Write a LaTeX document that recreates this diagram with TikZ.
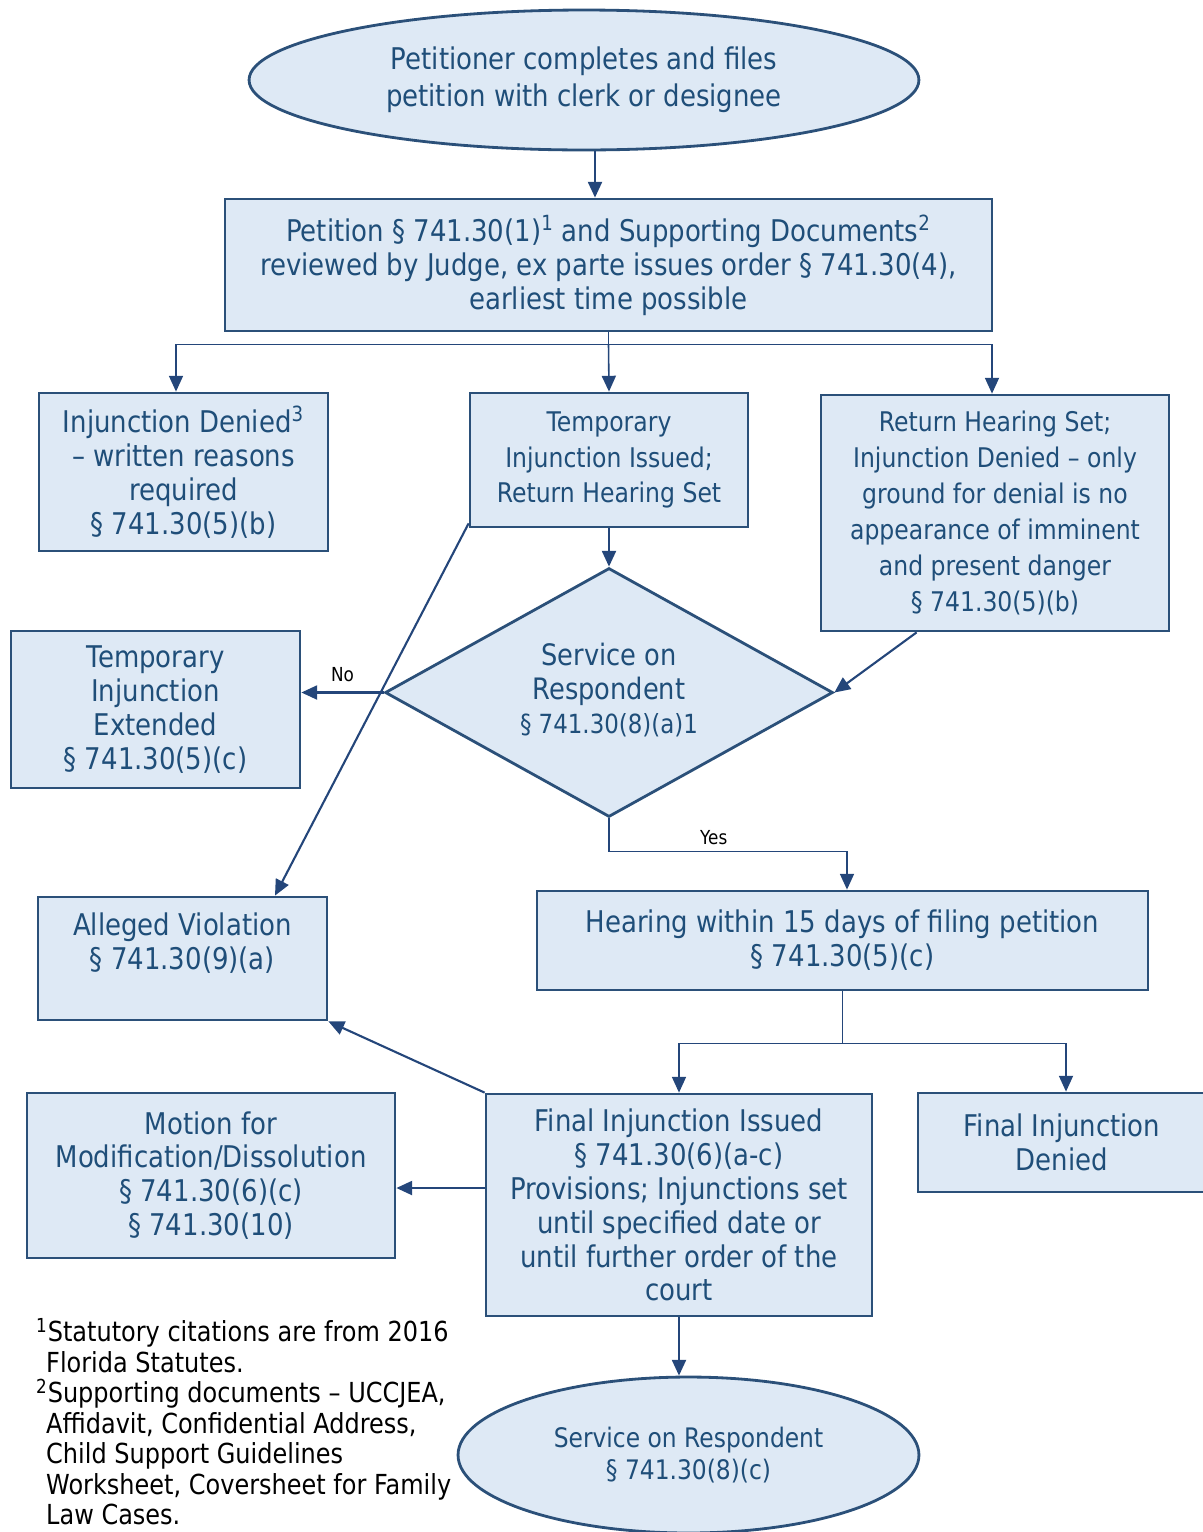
\documentclass[tikz,border=0pt]{standalone}
\usepackage{fontspec}
\setmainfont{DejaVu Sans}[FakeStretch=0.87]
\usetikzlibrary{arrows.meta,shapes.geometric,positioning}

\definecolor{boxfill}{HTML}{DEE9F5}
\definecolor{boxline}{HTML}{2B5079}
\definecolor{boxtext}{HTML}{1F4E79}
\definecolor{linkcol}{HTML}{24467A}

\begin{document}
\begin{tikzpicture}[x=0.02cm, y=-0.02cm, >={Triangle[length=9pt,width=8pt]},
    box/.style={draw=boxline, line width=1.6pt, fill=boxfill, text=boxtext, align=center, inner sep=0pt},
    oval/.style={box, ellipse},
    link/.style={draw=linkcol, line width=1.2pt},
    thinlink/.style={draw=linkcol, line width=0.9pt},
    bigtxt/.style={font=\fontsize{17}{19.3}\selectfont},
    toptxt/.style={font=\fontsize{17}{21}\selectfont},
    smalltxt/.style={font=\fontsize{15.4}{20.4}\selectfont},
    tag/.style={font=\fontsize{11}{13}\selectfont, text=black}]
    \useasboundingbox (0,0) rectangle (1203,1532);

    % Nodes
    \node [oval, toptxt, minimum width=13.4cm, minimum height=2.8cm] (petition) at (584,80)
        {Petitioner completes and files\\petition with clerk or designee};
    \node [box, bigtxt, minimum width=15.34cm, minimum height=2.64cm] (review) at (608.5,265)
        {Petition § 741.30(1)\textsuperscript{1} and Supporting Documents\textsuperscript{2}\\reviewed by Judge, ex parte issues order § 741.30(4),\\earliest time possible};
    \node [box, bigtxt, minimum width=5.78cm, minimum height=3.16cm] (denied) at (183.5,472)
        {Injunction Denied\textsuperscript{3}\\– written reasons\\required\\§ 741.30(5)(b)};
    \node [box, smalltxt, minimum width=5.56cm, minimum height=2.68cm] (temp) at (609,460)
        {Temporary\\Injunction Issued;\\Return Hearing Set};
    \node [box, smalltxt, minimum width=6.96cm, minimum height=4.72cm] (ret) at (995,513)
        {Return Hearing Set;\\Injunction Denied – only\\ground for denial is no\\appearance of imminent\\and present danger\\§ 741.30(5)(b)};
    \node [box, diamond, minimum width=8.96cm, minimum height=4.98cm] (svc) at (609,692.5) {};
    \node [text=boxtext, align=center, font=\fontsize{16.8}{19.3}\selectfont] (svctext) at (609,690)
        {Service on\\Respondent\\{\fontsize{15}{17}\selectfont § 741.30(8)(a)1}};
    \node [box, bigtxt, minimum width=5.78cm, minimum height=3.14cm] (ext) at (155.5,709.5)
        {Temporary\\Injunction\\Extended\\§ 741.30(5)(c)};
    \node [box, bigtxt, minimum width=5.78cm, minimum height=2.46cm] (alleged) at (182.5,958.5)
        {Alleged Violation\\§ 741.30(9)(a)\\\mbox{}};
    \node [box, bigtxt, minimum width=12.22cm, minimum height=1.98cm] (hearing) at (842.5,940.5)
        {Hearing within 15 days of filing petition\\§ 741.30(5)(c)};
    \node [box, bigtxt, minimum width=7.72cm, minimum height=4.44cm] (issued) at (679,1205)
        {Final Injunction Issued\\§ 741.30(6)(a-c)\\Provisions; Injunctions set\\until specified date or\\until further order of the\\court};
    \node [box, bigtxt, minimum width=5.76cm, minimum height=1.98cm] (fdenied) at (1062,1142.5)
        {Final Injunction\\Denied};
    \node [box, bigtxt, minimum width=7.36cm, minimum height=3.3cm] (motion) at (211,1175.5)
        {Motion for\\Modification/Dissolution\\§ 741.30(6)(c)\\§ 741.30(10)};
    \node [oval, font=\fontsize{15.3}{18.7}\selectfont, minimum width=9.22cm, minimum height=3.12cm] (service) at (688.5,1455)
        {Service on Respondent\\§ 741.30(8)(c)};
    \node [anchor=north west, align=left, font=\fontsize{15.7}{17.4}\selectfont] (notes) at (30,1312)
        {\textsuperscript{1}Statutory citations are from 2016\\
         \hspace*{0.2cm}Florida Statutes.\\
         \textsuperscript{2}Supporting documents – UCCJEA,\\
         \hspace*{0.2cm}Affidavit, Confidential Address,\\
         \hspace*{0.2cm}Child Support Guidelines\\
         \hspace*{0.2cm}Worksheet, Coversheet for Family\\
         \hspace*{0.2cm}Law Cases.};

    % Paths
    \draw [link,->] ([xshift=0.22cm]petition.south) -- ([xshift=0.22cm]petition.south |- review.north);
    \draw [thinlink] (review.south) -- ++(0,12) coordinate (split1);
    \draw [thinlink,->] (split1) -| ([xshift=-0.15cm]denied.north);
    \draw [thinlink,->] (split1) -- (temp.north);
    \draw [thinlink,->] (split1) -| ([xshift=-0.06cm]ret.north);
    \draw [link,->] (temp.south) -- (svc.north);
    \draw [link,->] ([xshift=1.94cm]ret.south west) -- (svc.east);
    \draw [link,->] (svc.west) -- (svc.west -| ext.east) node [tag, midway, above=2pt] {No};
    \draw [link,->] ([yshift=0.1cm]temp.south west) -- ([xshift=1.85cm]alleged.north);
    \draw [thinlink,->] (svc.south) -- ++(0,33) -| node [tag, pos=0.22, above] {Yes} ([xshift=0.09cm]hearing.north);
    \draw [thinlink] (hearing.south) -- ++(0,52) coordinate (split2);
    \draw [thinlink,->] (split2) -| (issued.north);
    \draw [thinlink,->] (split2) -| ([xshift=0.08cm]fdenied.north);
    \draw [link,->] (issued.north west) -- (alleged.south east);
    \draw [link,->] ([yshift=0.34cm]issued.west) -- ([yshift=0.34cm]issued.west -| motion.east);
    \draw [link,->] (issued.south) -- (issued.south |- service.north);
\end{tikzpicture}
\end{document}
